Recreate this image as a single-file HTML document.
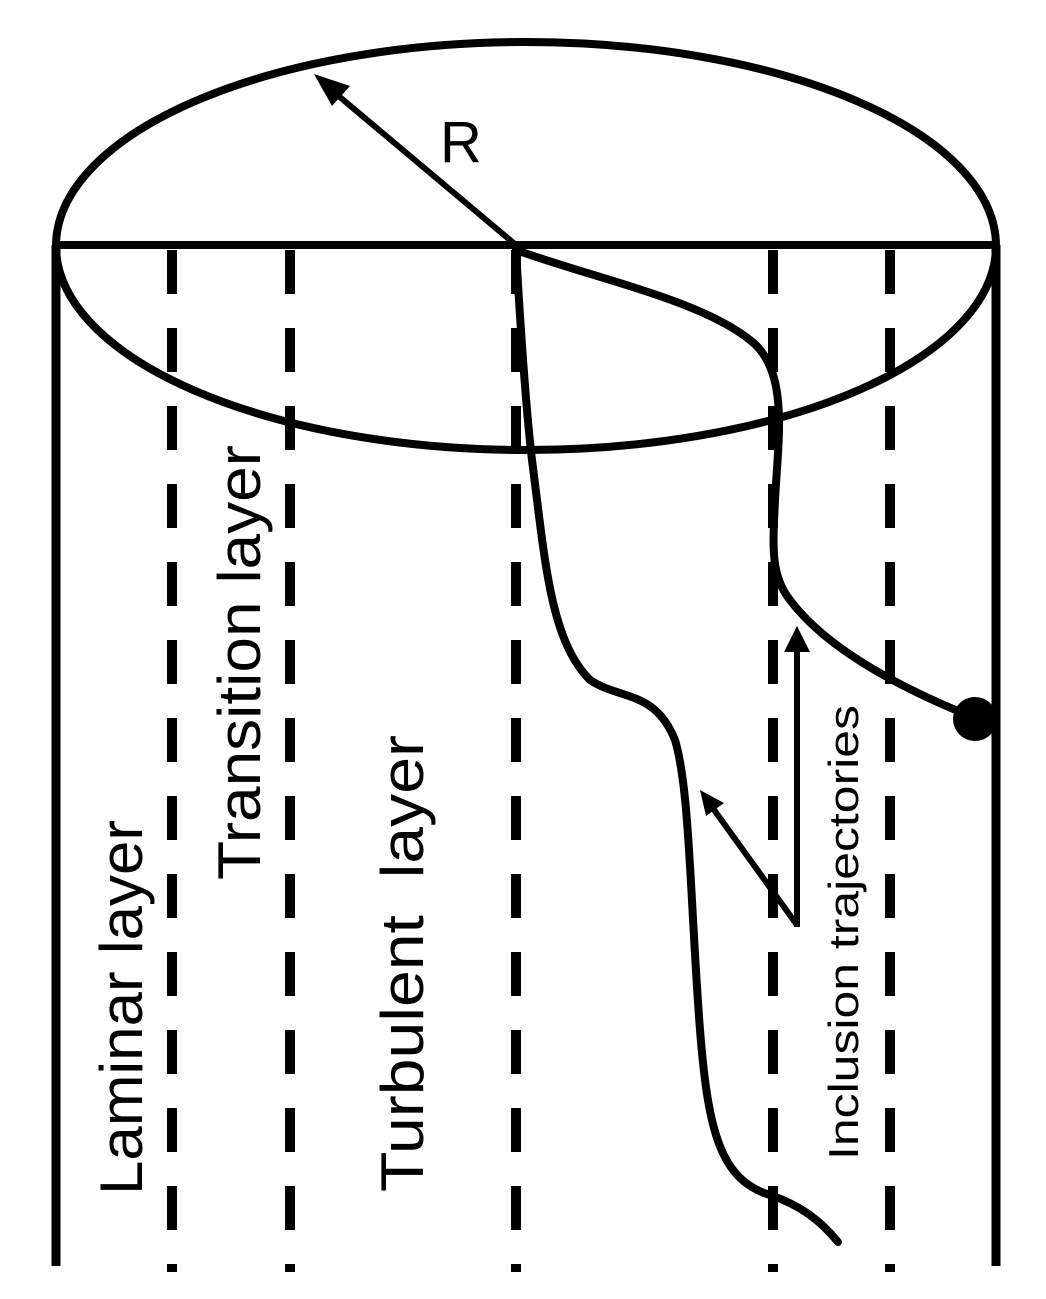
<!DOCTYPE html>
<html><head><meta charset="utf-8"><style>html,body{margin:0;padding:0;background:#fff}svg{display:block}</style></head><body>
<svg width="1046" height="1299" viewBox="0 0 1046 1299" xmlns="http://www.w3.org/2000/svg">
<g fill="none" stroke="#000" stroke-width="8">
<ellipse cx="526" cy="246" rx="470" ry="204"/>
<line x1="56" y1="245" x2="996" y2="245"/>
<line x1="56" y1="245" x2="56" y2="1266" stroke-width="9"/>
<line x1="996" y1="245" x2="996" y2="1266" stroke-width="9"/>
</g>
<g stroke="#000" stroke-width="10" stroke-dasharray="44 34">
<line x1="172" y1="250" x2="172" y2="1272"/>
<line x1="290" y1="250" x2="290" y2="1272"/>
<line x1="516" y1="250" x2="516" y2="1272"/>
<line x1="773" y1="250" x2="773" y2="1272"/>
<line x1="890" y1="250" x2="890" y2="1272"/>
</g>
<g fill="none" stroke="#000" stroke-width="8" stroke-linecap="round">
<path d="M516 250 C520 320 525 400 532 460 C545 560 550 640 590 680 C620 700 655 690 675 740 C690 790 690 900 700 1030 C708 1130 720 1180 770 1195 C800 1205 820 1220 838 1242"/>
<path d="M516 250 C600 280 700 300 750 340 C790 370 778 440 775 500 C773 545 770 575 790 600 C820 640 880 680 975 718"/>
</g>
<circle cx="975" cy="719" r="22" fill="#000"/>
<g stroke="#000" stroke-width="6">
<line x1="516" y1="245" x2="335" y2="93"/>
<line x1="797" y1="927" x2="797" y2="650"/>
<line x1="797" y1="925" x2="712" y2="807"/>
</g>
<polygon points="314,74 350,86 332,106" fill="#000"/>
<polygon points="797,626 784,652 810,652" fill="#000"/>
<polygon points="700,790 724,803 706,816" fill="#000"/>
<g font-family="Liberation Sans, sans-serif" fill="#000">
<text x="440" y="162" font-size="58">R</text>
<text transform="translate(142,1195) rotate(-90)" font-size="60" textLength="375" lengthAdjust="spacingAndGlyphs">Laminar layer</text>
<text transform="translate(260,880) rotate(-90)" font-size="60" textLength="435" lengthAdjust="spacingAndGlyphs">Transition layer</text>
<text transform="translate(423,1192) rotate(-90)" font-size="60" textLength="457" lengthAdjust="spacingAndGlyphs" xml:space="preserve">Turbulent  layer</text>
<text transform="translate(858,1160) rotate(-90)" font-size="42" textLength="455" lengthAdjust="spacingAndGlyphs">Inclusion trajectories</text>
</g>
</svg>
</body></html>
